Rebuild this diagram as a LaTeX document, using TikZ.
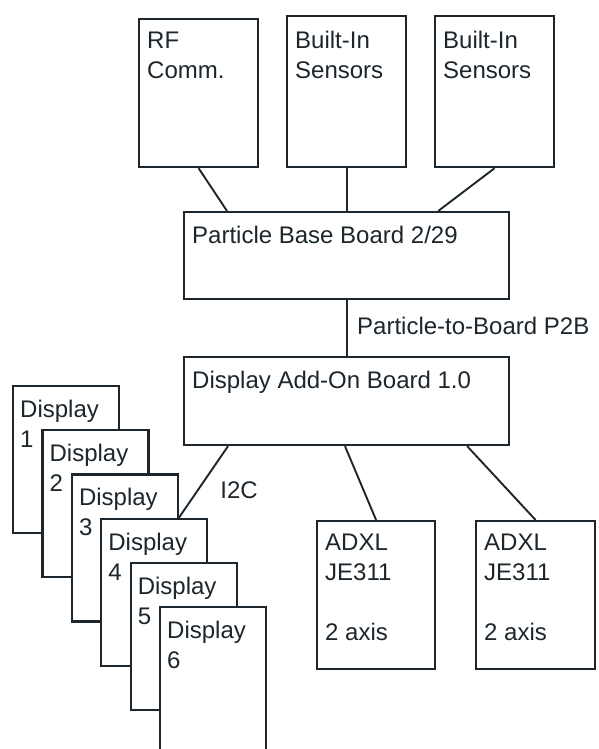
\documentclass[tikz,border=0pt]{standalone}
\usepackage{fontspec}
\setmainfont{Liberation Sans}
\usetikzlibrary{calc}

\definecolor{ink}{RGB}{28,38,44}
\tikzset{
  box/.style={draw=ink,line width=2.2pt,fill=white,anchor=north west,inner sep=0pt},
  txt/.style={anchor=north west,inner sep=0pt,align=left,text=ink,font=\fontsize{24}{30}\selectfont},
  wire/.style={draw=ink,line width=1.9pt}
}

\begin{document}
\begin{tikzpicture}[x=1pt,y=-1pt]
  \useasboundingbox (0,0) rectangle (599,749) ;
  \clip (0,0) rectangle (599,749) ;
  % top row
  \node[box,minimum width=119pt,minimum height=148pt] (rf) at (138,18) {} ;
  \node[box,minimum width=119pt,minimum height=151pt] (bia) at (286,15) {} ;
  \node[box,minimum width=119pt,minimum height=151pt] (bib) at (434,15) {} ;
  \node[txt] (rftxt) at ($(rf.north west)+(9,14)$) {RF\\Comm.} ;
  \node[txt] (biatxt) at ($(bia.north west)+(9,16)$) {Built-In\\Sensors} ;
  \node[txt] (bibtxt) at ($(bib.north west)+(9,16)$) {Built-In\\Sensors} ;
  % boards
  \node[box,minimum width=325pt,minimum height=87pt] (pbb) at (183,211) {} ;
  \node[txt] (pbbtxt) at ($(pbb.north west)+(9,15)$) {Particle Base Board 2/29} ;
  \node[box,minimum width=325pt,minimum height=88pt] (addon) at (183,356) {} ;
  \node[txt] (addontxt) at ($(addon.north west)+(9,15)$) {Display Add-On Board 1.0} ;
  \draw[wire] (rf.south) -- ($(pbb.north west)+(44,0)$) ;
  \draw[wire] (bia.south) -- (bia.south |- pbb.north) ;
  \draw[wire] (bib.south) -- ($(pbb.north east)+(-72,0)$) ;
  \draw[wire] (pbb.south) -- (addon.north) ;
  \node[txt,anchor=west] (p2b) at (357,326) {Particle-to-Board P2B} ;
  % accelerometers
  \node[box,minimum width=118pt,minimum height=148pt] (adxla) at (316,520) {} ;
  \node[box,minimum width=119pt,minimum height=148pt] (adxlb) at (475,520) {} ;
  \node[txt] at ($(adxla.north west)+(9,14)$) {ADXL\\JE311\\[30pt]2 axis} ;
  \node[txt] at ($(adxlb.north west)+(9,14)$) {ADXL\\JE311\\[30pt]2 axis} ;
  \draw[wire] ($(addon.south west)+(162,0)$) -- (adxla.north) ;
  \draw[wire] ($(addon.south east)+(-43,0)$) -- (adxlb.north) ;
  % displays
  \foreach \i in {1,...,6} {
    \node[box,minimum width=106pt,minimum height=147pt] (d\i) at ({12+29.4*(\i-1)},{385+44.2*(\i-1)}) {} ;
    \node[txt] at ($(d\i.north west)+(8,15)$) {Display\\\i} ;
  }
  \draw[wire] ($(addon.south west)+(45,0)$) -- (d3.north east |- d4.north) ;
  \node[txt,anchor=center] (i2c) at (239,490) {I2C} ;
\end{tikzpicture}
\end{document}
